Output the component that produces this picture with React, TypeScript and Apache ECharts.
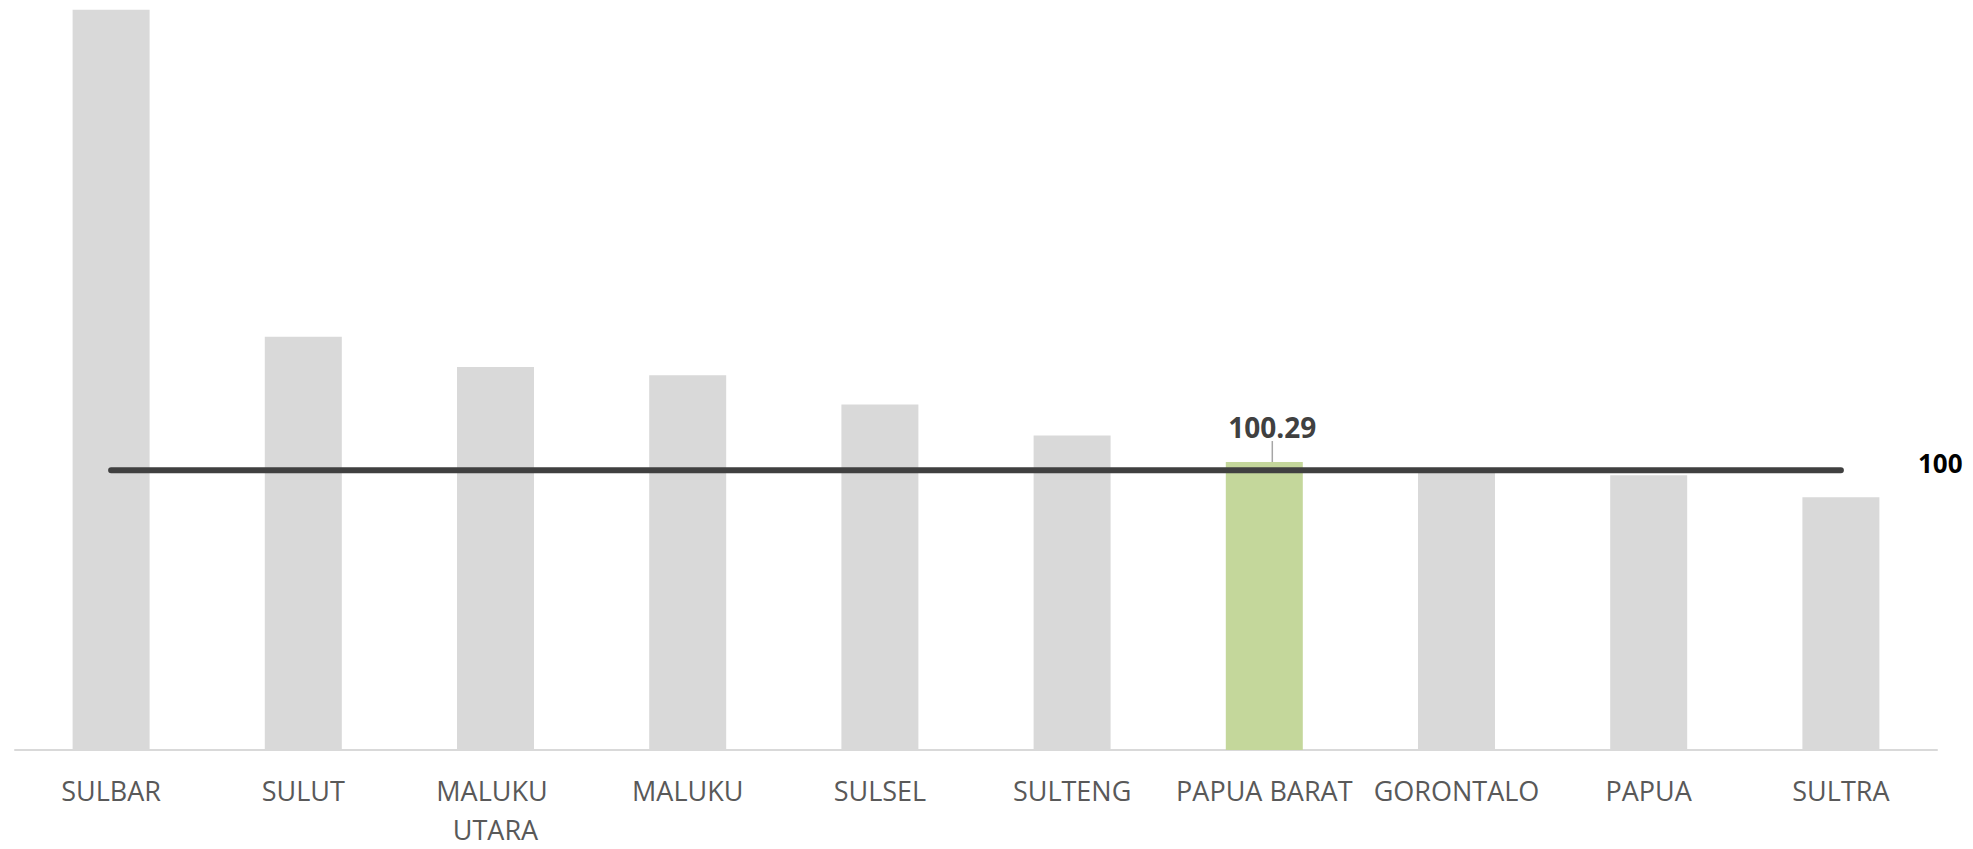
import React, { useEffect, useRef } from "react";
import * as echarts from "echarts";

const categories = [
  "SULBAR",
  "SULUT",
  "MALUKU UTARA",
  "MALUKU",
  "SULSEL",
  "SULTENG",
  "PAPUA BARAT",
  "GORONTALO",
  "PAPUA",
  "SULTRA",
];
const barValues = [116.45, 104.77, 103.69, 103.39, 102.35, 101.24, 100.29, 99.9, 99.82, 99.03];
const referenceValues = [100, 100, 100, 100, 100, 100, 100, 100, 100, 100];
const highlightName = "PAPUA BARAT";

const FONT = "'Open Sans', 'Noto Sans', sans-serif";

export default function App() {
  const ref = useRef<HTMLDivElement>(null);

  useEffect(() => {
    if (!ref.current) return;
    const chart = echarts.init(ref.current, undefined, { renderer: "svg" });
    const option: any = {
      animation: false,
      backgroundColor: "#ffffff",
      textStyle: { fontFamily: FONT },
      grid: { left: 15, right: 36, top: 0, bottom: 93, containLabel: false },
      xAxis: {
        type: "category",
        data: categories,
        axisTick: { show: false },
        axisLine: { show: true, lineStyle: { color: "#d9d9d9", width: 2 } },
        axisLabel: {
          interval: 0,
          color: "#595959",
          fontFamily: FONT,
          fontSize: 27,
          margin: 21,
          lineHeight: 39,
          width: 188,
          overflow: "break",
        },
      },
      yAxis: {
        type: "value",
        min: 90,
        max: 116.8,
        show: false,
        splitLine: { show: false },
      },
      series: [
        {
          type: "bar",
          barWidth: 77,
          z: 2,
          data: barValues.map((v, i) => {
            if (categories[i] === highlightName) {
              return {
                value: v,
                itemStyle: { color: "#c4d79b" },
                label: {
                  show: true,
                  position: "top",
                  distance: 0,
                  formatter: (p: any) => Number(p.value).toFixed(2),
                  fontFamily: FONT,
                  fontWeight: "bold",
                  fontSize: 28,
                  color: "#404040",
                },
                labelLine: {
                  show: true,
                  lineStyle: { color: "#a6a6a6", width: 1.5 },
                },
              };
            }
            return { value: v, itemStyle: { color: "#d9d9d9" } };
          }),
          labelLayout: { dx: 8, dy: -21 },
        },
        {
          type: "line",
          data: referenceValues,
          z: 5,
          symbol: "none",
          lineStyle: { color: "#404040", width: 6, cap: "round" },
          endLabel: {
            show: true,
            formatter: (p: any) => String(p.value),
            distance: 77,
            offset: [0, -7],
            fontFamily: FONT,
            fontWeight: "bold",
            fontSize: 26,
            color: "#000000",
          },
        },
      ],
    };
    chart.setOption(option);
    return () => {
      chart.dispose();
    };
  }, []);

  return (
    <div
      ref={ref}
      style={{ position: "fixed", left: 0, top: 0, width: 1973, height: 849 }}
    />
  );
}
